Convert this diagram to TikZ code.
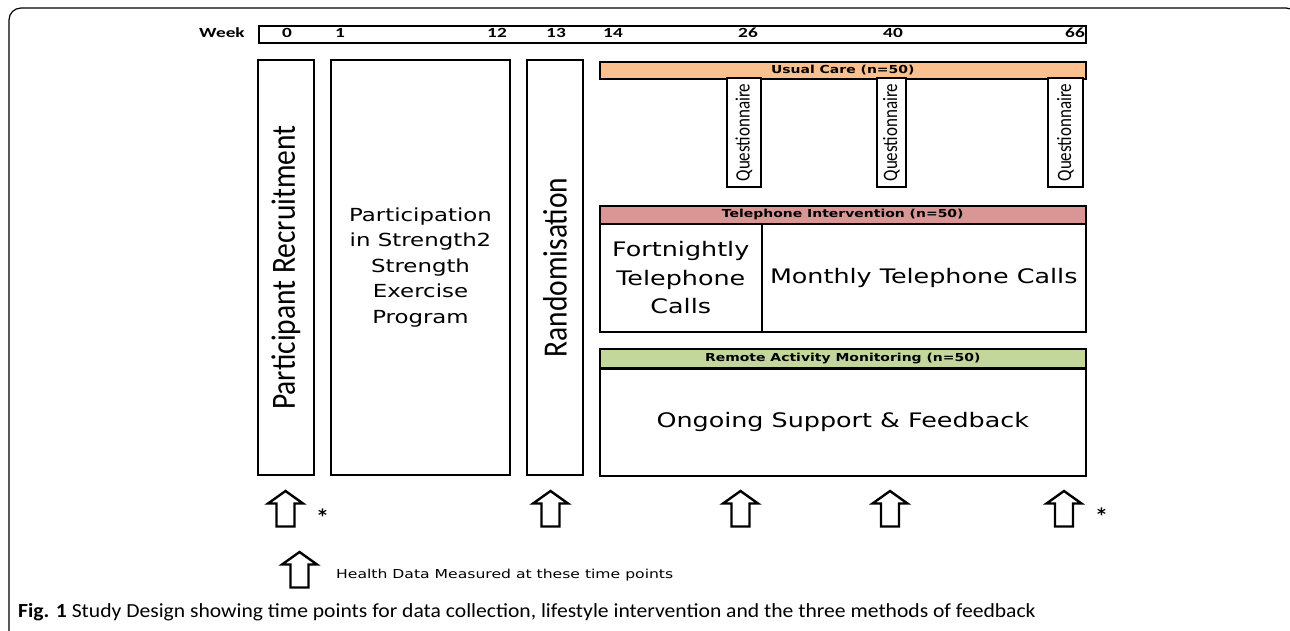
\documentclass[tikz,border=0pt]{standalone}
\usepackage{fontspec}
\setmainfont{DejaVu Sans}
\newfontfamily\verd[FakeStretch=1.27]{DejaVu Sans}
\newfontfamily\calib{Carlito}
\newfontfamily\calibw[FakeStretch=1.38]{Carlito}
\newfontfamily\capfont[FakeStretch=1.08]{Carlito}
\usetikzlibrary{positioning}

\definecolor{carecol}{HTML}{FAC090}
\definecolor{phonecol}{HTML}{D99694}
\definecolor{remotecol}{HTML}{C3D69B}

\newcommand{\upright}[2]{\scalebox{1}[#1]{#2}}

\tikzset{
	block/.style={draw, line width=1.5pt, inner sep=0pt},
	bar/.style={block, anchor=north west, minimum width=486pt, font=\verd\bfseries\fontsize{11}{12}\selectfont},
	tall/.style={block, rotate=90, minimum width=415pt, minimum height=56pt, font=\calib\fontsize{29.5}{32}\selectfont},
	quest/.style={block, fill=white, rotate=90, minimum width=109pt, font=\calib\fontsize{17}{19}\selectfont},
	weeknum/.style={font=\calibw\bfseries\fontsize{14}{16}\selectfont},
	datamark/.style={line width=2.4pt, line join=miter}
}

\begin{document}
\begin{tikzpicture}[x=1pt,y=-1pt]
			\useasboundingbox (0,0) rectangle (1290,630);
			\clip (0,0) rectangle (1290,630);
			% outer frame
			\draw[line width=1.2pt, rounded corners=12pt] (9,8) rectangle (1298,660);
			% week scale
			\node[weeknum] (weeklbl) at (222,33) {Week};
			\node[block, anchor=north west, minimum width=827pt, minimum height=17pt] (scale) at (258,25) {};
			\foreach \wx/\wk in {287/0, 340/1, 497/12, 556/13, 613/14, 748/26, 893/40, 1075/66}{
				\node[weeknum] (wk\wk) at (\wx,33) {\wk};
			}
			% first phases
			\node[tall] (recruit) at (286,267.5) {\upright{1.15}{Participant Recruitment}};
			\node[block, minimum width=179pt, minimum height=415pt, align=center,
				font=\verd\fontsize{18}{25.5}\selectfont] (strength) at (420.5,267.5)
				{Participation\\in Strength2\\Strength\\Exercise\\Program};
			\node[tall] (random) at (555,267.5) {\upright{1.15}{Randomisation}};
			% usual care
			\node[bar, fill=carecol, minimum height=17pt] (care) at (599,61) {Usual Care (n=50)};
			\node[quest, minimum height=34pt] (q26) at (744,132.5) {\upright{1.2}{Questionnaire}};
			\node[quest, minimum height=29pt] (q40) at (891.5,132.5) {\upright{1.2}{Questionnaire}};
			\node[quest, minimum height=35pt] (q66) at (1065.5,132.5) {\upright{1.2}{Questionnaire}};
			% telephone intervention
			\node[bar, fill=phonecol, minimum height=18pt] (phone) at (599,205) {Telephone Intervention (n=50)};
			\node[block, anchor=north west, minimum width=162pt, minimum height=108pt, align=center,
				font=\verd\fontsize{20}{28.5}\selectfont] (fortnight) at (599,223) {Fortnightly\\Telephone\\Calls};
			\node[block, anchor=north west, minimum width=324pt, minimum height=108pt,
				font=\verd\fontsize{20}{24}\selectfont] (monthly) at (761,223) {Monthly Telephone Calls};
			% remote monitoring
			\node[bar, fill=remotecol, minimum height=19pt] (remote) at (599,348) {Remote Activity Monitoring (n=50)};
			\node[block, anchor=north west, minimum width=486pt, minimum height=107pt,
				font=\verd\fontsize{20}{24}\selectfont] (support) at (599,368) {Ongoing Support \& Feedback};
			% measurement arrows
			\foreach \ax in {285.5, 550.5, 740.5, 890, 1064}{
				\draw[datamark] (\ax,491) -- ++(17.5,12.5) -- ++(-8.5,0) -- ++(0,23) -- ++(-18,0)
					-- ++(0,-23) -- ++(-8.5,0) -- cycle;
			}
			\node[font=\bfseries\fontsize{17}{18}\selectfont] (star1) at (322.5,515) {*};
			\node[font=\bfseries\fontsize{17}{18}\selectfont] (star2) at (1101.5,514) {*};
			% legend
			\draw[datamark] (299.5,552) -- ++(17.5,12.5) -- ++(-8.5,0) -- ++(0,23) -- ++(-18,0)
				-- ++(0,-23) -- ++(-8.5,0) -- cycle;
			\node[anchor=west, inner sep=0pt, font=\verd\fontsize{12.3}{15}\selectfont] (legend) at (336,575)
				{Health Data Measured at these time points};
			% caption
			\node[anchor=west, inner sep=0pt, font=\capfont\fontsize{20}{22}\selectfont] (caption) at (18,612)
				{\textbf{Fig. 1} Study Design showing time points for data collection, lifestyle intervention and the three methods of feedback};
		\end{tikzpicture}
\end{document}
